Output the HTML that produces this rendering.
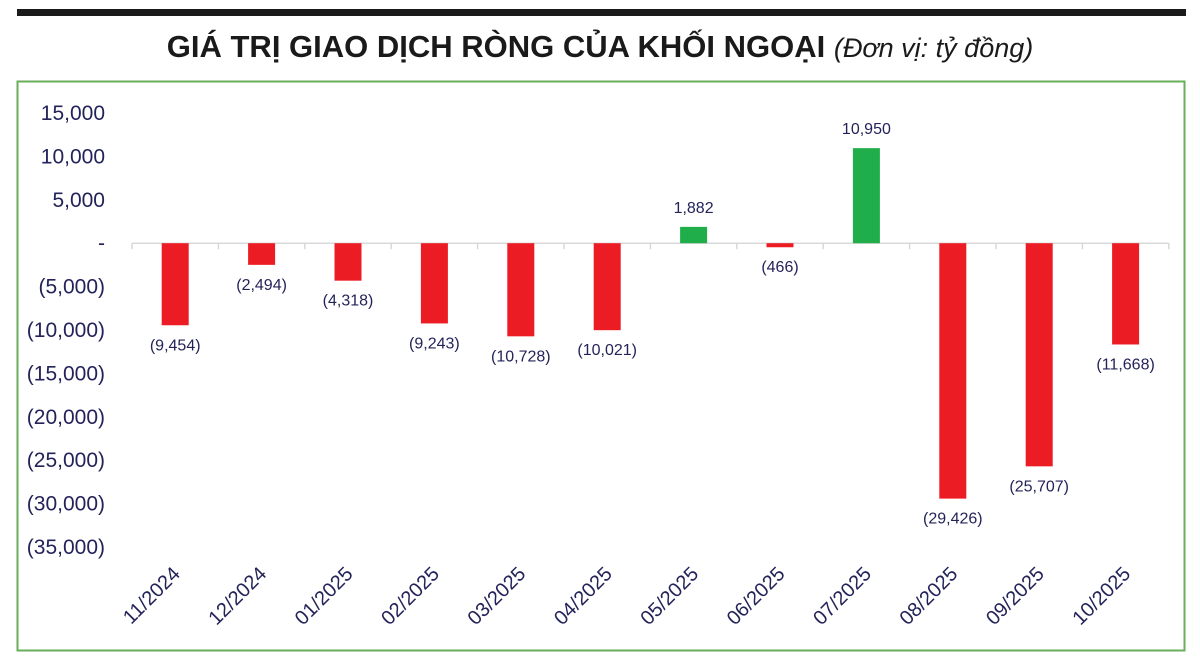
<!DOCTYPE html>
<html><head><meta charset="utf-8"><style>
html,body{margin:0;padding:0;background:#fff;width:1200px;height:664px;overflow:hidden}
svg text{font-family:"Liberation Sans",sans-serif}
</style></head><body>
<svg width="1200" height="664">
<rect x="17" y="9" width="1169" height="7" fill="#1a1a1a"/>
<text x="600" y="57" text-anchor="middle" font-size="31" font-weight="bold" fill="#1a1a1a">GIÁ TRỊ GIAO DỊCH RÒNG CỦA KHỐI NGOẠI <tspan font-weight="normal" font-style="italic" font-size="27">(Đơn vị: tỷ đồng)</tspan></text>
<rect x="17.5" y="81.5" width="1167" height="569" fill="none" stroke="#6aae5a" stroke-width="2"/>
<g id="plot"></g>
</svg>
<script>
const categories=["11/2024","12/2024","01/2025","02/2025","03/2025","04/2025","05/2025","06/2025","07/2025","08/2025","09/2025","10/2025"];
const values=[-9454,-2494,-4318,-9243,-10728,-10021,1882,-466,10950,-29426,-25707,-11668];
const valueLabels=["(9,454)","(2,494)","(4,318)","(9,243)","(10,728)","(10,021)","1,882","(466)","10,950","(29,426)","(25,707)","(11,668)"];
const yTicks=[15000,10000,5000,0,-5000,-10000,-15000,-20000,-25000,-30000,-35000];
const yTickLabels=["15,000","10,000","5,000","-","(5,000)","(10,000)","(15,000)","(20,000)","(25,000)","(30,000)","(35,000)"];
const NS="http://www.w3.org/2000/svg";
const g=document.getElementById('plot');
const x0=132,bw=86.4,barW=27;
function y(v){return 243.2-v*(43.4/5000);}
function xc(i){return x0+bw*(i+0.5);}
function mk(t,a,txt){const e=document.createElementNS(NS,t);for(const k in a)e.setAttribute(k,a[k]);if(txt!=null)e.textContent=txt;g.appendChild(e);return e;}
yTicks.forEach((v,i)=>{
 const t=mk('text',{x:105,y:y(v)+7,'text-anchor':'end','font-size':21,fill:'#23235a'},yTickLabels[i]);
 
 
});
const ax=mk('line',{x1:x0,x2:x0+bw*categories.length,y1:y(0),y2:y(0),stroke:'#d9d9d9','stroke-width':1.5});


for(let i=0;i<=categories.length;i++){
 const tk=mk('line',{x1:x0+bw*i,x2:x0+bw*i,y1:y(0),y2:y(0)+6,stroke:'#d9d9d9','stroke-width':1.5});
 
 
}
values.forEach((v,i)=>{
 const top=Math.min(y(v),y(0)),h=Math.abs(y(v)-y(0));
 const r=mk('rect',{x:xc(i)-barW/2,y:top,width:barW,height:Math.max(h,1),fill:v>=0?'#1fae4a':'#ec1c24'});
 
 
 const ly=v>=0?y(v)-14:y(v)+25;
 const l=mk('text',{x:xc(i),y:ly,'text-anchor':'middle','font-size':16,fill:'#23235a'},valueLabels[i]);
 
 
 const c=mk('text',{x:xc(i)+6,y:575,'text-anchor':'end','font-size':20,fill:'#23235a',transform:`rotate(-45 ${xc(i)+6} 575)`},categories[i]);
 
 
});
</script>
</body></html>
